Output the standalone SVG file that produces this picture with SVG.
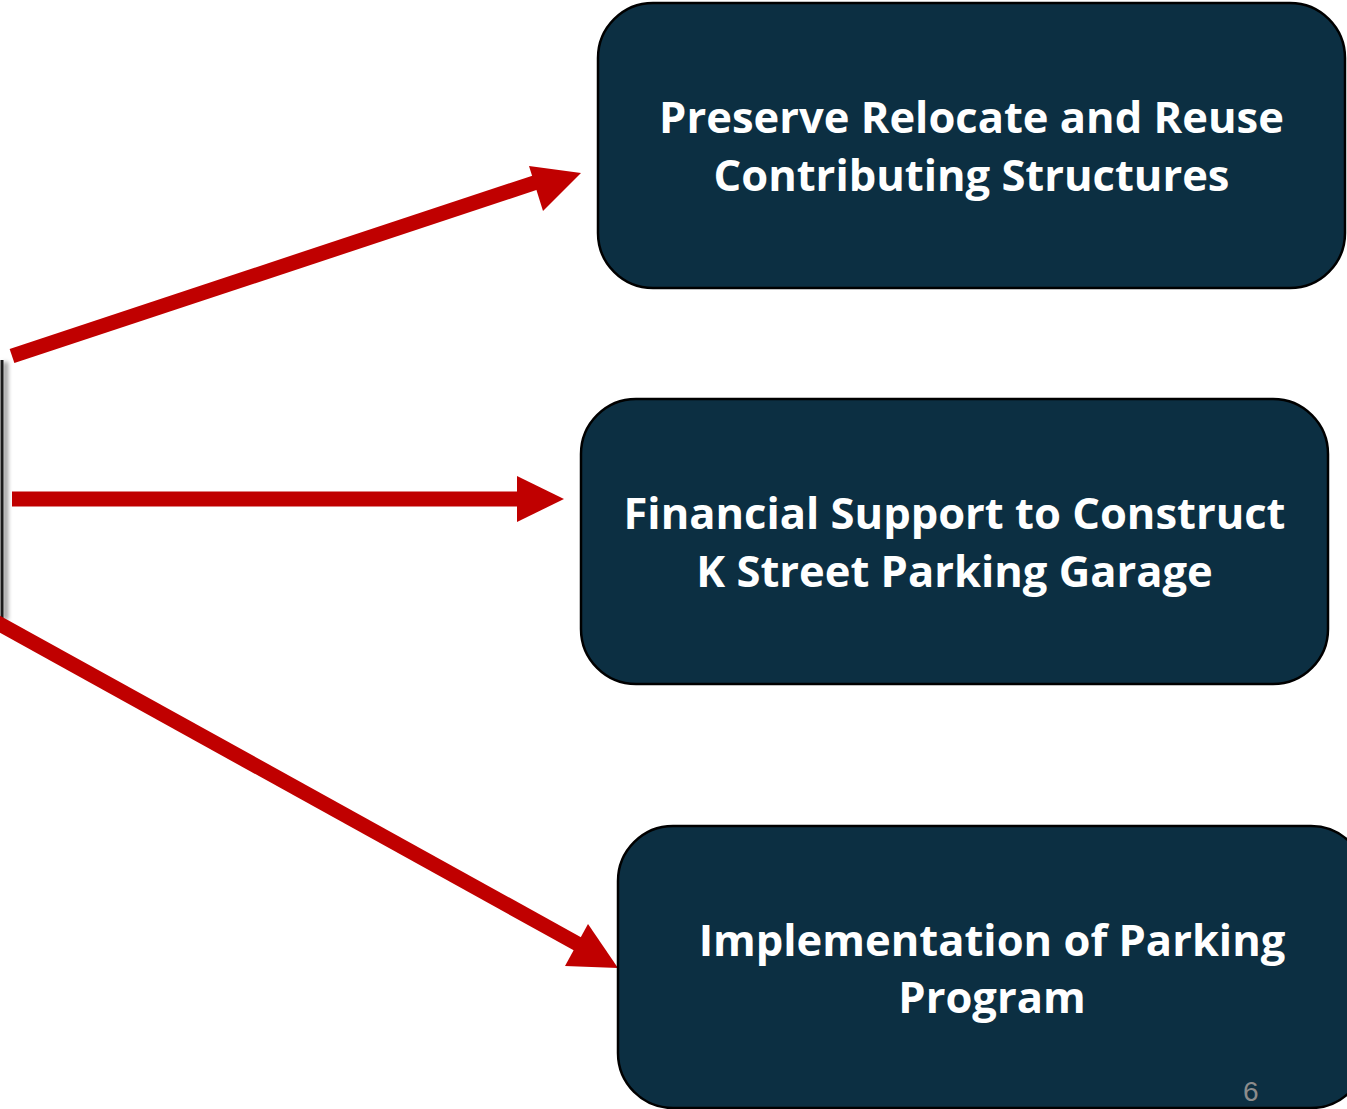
<svg xmlns="http://www.w3.org/2000/svg" width="1347" height="1109" viewBox="0 0 1347 1109">
  <defs>
    <style>
      .box { fill: #0c2f42; stroke: #000; stroke-width: 2.5; }
      .label { font-family: "Open Sans", "Liberation Sans", sans-serif; font-weight: 700; font-size: 43.5px; fill: #ffffff; text-anchor: middle; }
      .shaft { stroke: #c00000; stroke-width: 15; fill: none; }
      .head { fill: #c00000; }
      .pagenum { font-family: "Liberation Sans", Arial, sans-serif; font-size: 28px; fill: #8c8c8c; }
    </style>
    <filter id="edgeShadow" x="-300%" y="-10%" width="700%" height="120%">
      <feGaussianBlur stdDeviation="2"/>
    </filter>
  </defs>
  <rect width="1347" height="1109" fill="#ffffff"/>

  <!-- edge of the source shape on the left -->
  <g id="source-edge">
    <rect x="3" y="362" width="5" height="258" fill="#9a9a9a" filter="url(#edgeShadow)"/>
    <line x1="2" y1="360" x2="2" y2="620" stroke="#1a1a1a" stroke-width="3"/>
  </g>

  <g id="connectors">
    <line class="shaft" x1="12" y1="356" x2="540" y2="181"/>
    <polygon class="head" points="529,166 581,173 543,211"/>
    <line class="shaft" x1="12" y1="499" x2="520" y2="499"/>
    <polygon class="head" points="517,476 564,499 517,522"/>
    <line class="shaft" x1="-4" y1="622" x2="585" y2="948"/>
    <polygon class="head" points="588,924 618,968 565,966"/>
  </g>

  <g id="node-preserve">
    <rect class="box" x="598" y="3" width="747" height="285" rx="55"/>
    <text class="label" x="971.5" y="133">Preserve Relocate and Reuse</text>
    <text class="label" x="971.5" y="191">Contributing Structures</text>
  </g>

  <g id="node-financial">
    <rect class="box" x="581" y="399" width="747" height="285" rx="55"/>
    <text class="label" x="954.5" y="529">Financial Support to Construct</text>
    <text class="label" x="954.5" y="587">K Street Parking Garage</text>
  </g>

  <g id="node-parking">
    <rect class="box" x="618" y="826" width="748" height="282" rx="55"/>
    <text class="label" x="992" y="956">Implementation of Parking</text>
    <text class="label" x="992" y="1013">Program</text>
  </g>

  <text class="pagenum" x="1243" y="1101">6</text>
</svg>
